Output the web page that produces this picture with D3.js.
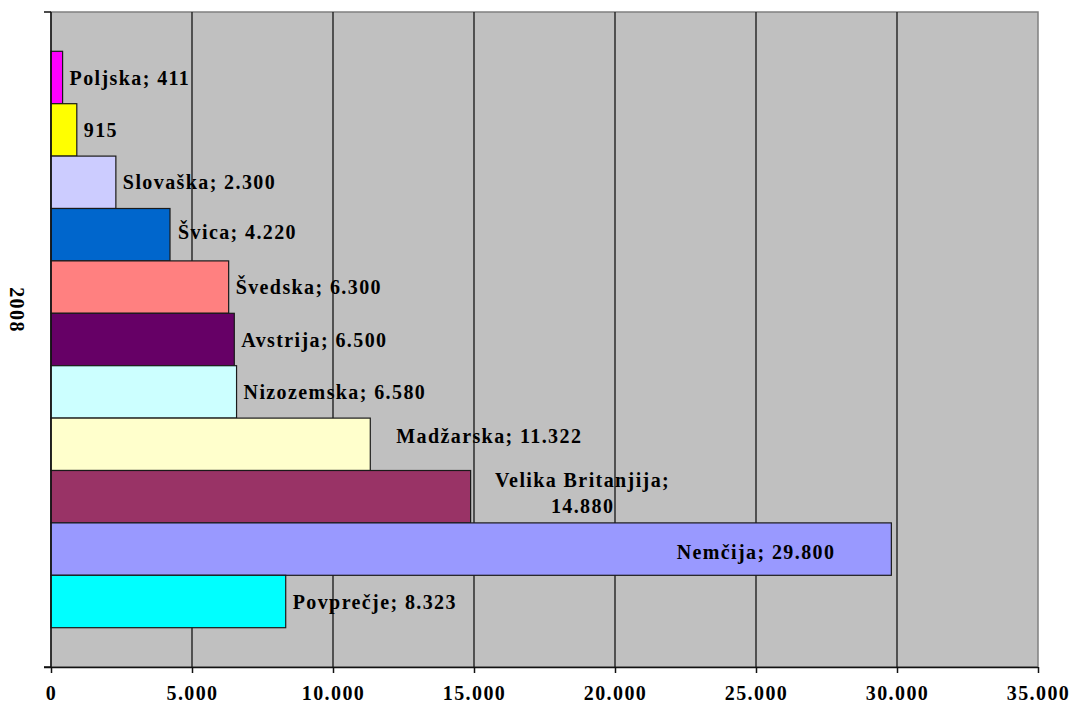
<!DOCTYPE html>
<html>
<head>
<meta charset="utf-8">
<script src="https://cdn.jsdelivr.net/npm/d3@7"></script>
<style>
  html, body { margin: 0; padding: 0; background: #ffffff; }
  svg { display: block; }
  text { font-family: "Liberation Serif", "Times New Roman", serif; font-weight: bold; fill: #000; }
</style>
</head>
<body>
<svg id="chart" width="1072" height="705"></svg>
<script>
// Countries (top to bottom) and their 2008 values
const countries = ["Poljska", "", "Slovaška", "Švica", "Švedska", "Avstrija", "Nizozemska",
                   "Madžarska", "Velika Britanjija", "Nemčija", "Povprečje"];
const values = [411, 915, 2300, 4220, 6300, 6500, 6580, 11322, 14880, 29800, 8323];
const barColors = ["#FF00FF", "#FFFF00", "#CCCCFF", "#0066CC", "#FF8080", "#660066",
                   "#CCFFFF", "#FFFFCC", "#993366", "#9999FF", "#00FFFF"];
const xTicks = [0, 5000, 10000, 15000, 20000, 25000, 30000, 35000];
const seriesLabel = "2008";

const svg = d3.select("#chart");
const plot = { left: 51, right: 1038, top: 12, bottom: 667 };
const fontSize = "20px";
const spacing = "1.4px";

// Number format with "." as thousands separator
const fmt = d3.formatLocale({ decimal: ",", thousands: ".", grouping: [3], currency: ["", ""] }).format(",d");

const x = d3.scaleLinear().domain([0, 35000]).range([plot.left, plot.right]);
const y = d3.scaleBand().domain(d3.range(values.length))
  .range([plot.top, plot.bottom]).paddingInner(0).paddingOuter(0.75);

// Plot area background
svg.append("rect")
  .attr("x", plot.left).attr("y", plot.top)
  .attr("width", plot.right - plot.left).attr("height", plot.bottom - plot.top)
  .attr("fill", "#C0C0C0").attr("stroke", "#808080").attr("stroke-width", 1.5);

// Vertical gridlines
svg.append("g").selectAll("line").data(xTicks.slice(1, -1)).join("line")
  .attr("x1", d => x(d)).attr("x2", d => x(d))
  .attr("y1", plot.top).attr("y2", plot.bottom)
  .attr("stroke", "#222").attr("stroke-width", 1.4);

// Bars
svg.append("g").selectAll("rect").data(values).join("rect")
  .attr("x", x(0))
  .attr("y", (d, i) => y(i))
  .attr("width", d => x(d) - x(0))
  .attr("height", y.bandwidth())
  .attr("fill", (d, i) => barColors[i])
  .attr("stroke", "#1a1a1a").attr("stroke-width", 1.2);

// Bottom value axis
const xAxis = d3.axisBottom(x).tickValues(xTicks).tickFormat(fmt).tickSize(6).tickPadding(13);
const gx = svg.append("g").attr("transform", `translate(0,${plot.bottom})`).call(xAxis);
gx.select(".domain").attr("stroke", "#111").attr("stroke-width", 1.5)
  .attr("d", `M${plot.left - 7},0.5H${plot.right}`);
gx.selectAll(".tick line").attr("stroke", "#111").attr("stroke-width", 1.5);
gx.selectAll(".tick text")
  .style("font-family", '"Liberation Serif", "Times New Roman", serif')
  .style("font-weight", "bold").style("font-size", fontSize)
  .style("letter-spacing", spacing).attr("fill", "#000");

// Left category axis line with end ticks
const gy = svg.append("g");
gy.append("line").attr("x1", plot.left).attr("x2", plot.left)
  .attr("y1", plot.top).attr("y2", plot.bottom)
  .attr("stroke", "#111").attr("stroke-width", 1.5);
gy.selectAll("line.tk").data([plot.top, plot.bottom]).join("line").attr("class", "tk")
  .attr("x1", plot.left - 7).attr("x2", plot.left)
  .attr("y1", d => d).attr("y2", d => d)
  .attr("stroke", "#111").attr("stroke-width", 1.5);

// Series name along the category axis
svg.append("text")
  .attr("transform", `translate(17,310) rotate(90)`)
  .attr("text-anchor", "middle").attr("dominant-baseline", "central")
  .style("font-size", fontSize).style("letter-spacing", spacing)
  .text(seriesLabel);

// Data labels: "Country; value"
const labelText = (i) => countries[i] ? `${countries[i]}; ${fmt(values[i])}` : fmt(values[i]);
const labels = svg.append("g")
  .style("font-size", fontSize).style("letter-spacing", spacing);

values.forEach((v, i) => {
  const cy = y(i) + y.bandwidth() / 2;
  const t = labels.append("text").attr("dominant-baseline", "central");
  if (countries[i] === "Velika Britanjija") {
    // two-line label placed to the right of the bar
    const cx = x(v) + 112;
    t.attr("text-anchor", "middle");
    t.append("tspan").attr("x", cx).attr("y", cy - 17).text(`${countries[i]};`);
    t.append("tspan").attr("x", cx).attr("y", cy + 9).text(fmt(v));
  } else if (countries[i] === "Nemčija") {
    // label sits inside the longest bar
    t.attr("text-anchor", "end").attr("x", x(v) - 56).attr("y", cy + 3).text(labelText(i));
  } else if (countries[i] === "Madžarska") {
    t.attr("x", x(v) + 26).attr("y", cy - 8).text(labelText(i));
  } else if (countries[i] === "Švica") {
    t.attr("x", x(v) + 8).attr("y", cy - 3).text(labelText(i));
  } else {
    t.attr("x", x(v) + 7).attr("y", cy).text(labelText(i));
  }
});
</script>
</body>
</html>
